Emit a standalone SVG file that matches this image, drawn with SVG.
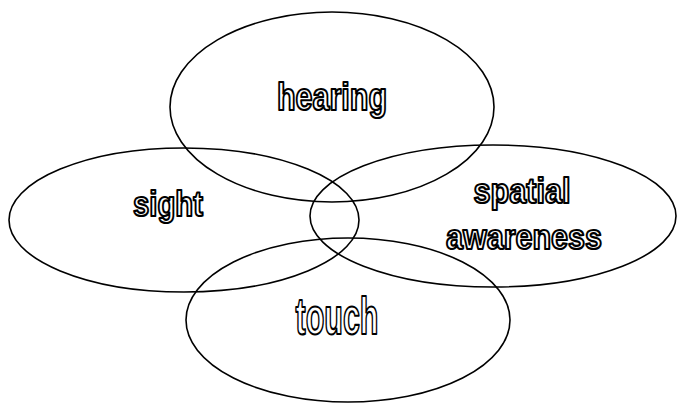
<svg xmlns="http://www.w3.org/2000/svg" width="678" height="404" viewBox="0 0 678 404">
<style>
.e{fill:none;stroke:#000;stroke-width:1.6}
.t{font-family:"Liberation Sans",Arial,sans-serif;font-weight:bold;fill:#fff;stroke:#000;stroke-width:2.2;stroke-linejoin:round;text-anchor:middle}
</style>
<rect width="678" height="404" fill="#fff"/>
<g id="hearing"><ellipse class="e" cx="332" cy="107" rx="162" ry="95"/><text class="t" x="332" y="110" font-size="38" textLength="110" lengthAdjust="spacingAndGlyphs">hearing</text></g>
<g id="sight"><ellipse class="e" cx="184" cy="220" rx="175" ry="72"/><text class="t" x="168" y="216" font-size="35" textLength="70" lengthAdjust="spacingAndGlyphs">sight</text></g>
<g id="spatial"><ellipse class="e" cx="493" cy="216" rx="183" ry="71"/><text class="t" x="522" y="203" font-size="35" textLength="97" lengthAdjust="spacingAndGlyphs">spatial</text><text class="t" x="524" y="249" font-size="35" textLength="156" lengthAdjust="spacingAndGlyphs">awareness</text></g>
<g id="touch"><ellipse class="e" cx="348" cy="320" rx="162" ry="82"/><text class="t" x="337" y="334" font-size="52" textLength="83" lengthAdjust="spacingAndGlyphs">touch</text></g>
<g id="connectors"/>
</svg>
